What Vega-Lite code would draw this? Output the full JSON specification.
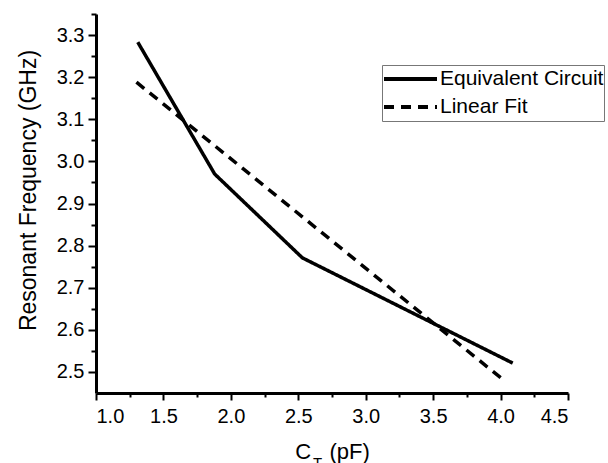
{
  "$schema": "https://vega.github.io/schema/vega-lite/v6.json",
  "autosize": {"type": "none"},
  "width": 472,
  "height": 379,
  "padding": {"left": 96, "top": 14, "right": 40, "bottom": 70},
  "background": "white",
  "config": {
    "font": "Liberation Sans",
    "view": {"stroke": null},
    "axis": {"grid": false, "domainColor": "black", "domainWidth": 3, "tickColor": "black", "tickWidth": 2, "labelColor": "black", "titleColor": "black", "labelFont": "Liberation Sans", "titleFont": "Liberation Sans", "titleFontWeight": "normal"}
  },
  "data": {
    "values": [
      {"c": 1.31, "f": 3.283, "series": "Equivalent Circuit"},
      {"c": 1.88, "f": 2.97, "series": "Equivalent Circuit"},
      {"c": 2.53, "f": 2.771, "series": "Equivalent Circuit"},
      {"c": 4.09, "f": 2.521, "series": "Equivalent Circuit"},
      {"c": 1.30, "f": 3.188, "series": "Linear Fit"},
      {"c": 4.04, "f": 2.476, "series": "Linear Fit"}
    ]
  },
  "layer": [
    {
      "mark": {"type": "line", "color": "black", "strokeWidth": 3.5, "clip": false},
      "encoding": {
        "x": {
          "field": "c", "type": "quantitative",
          "scale": {"domain": [1.0, 4.5], "nice": false, "zero": false},
          "axis": {
            "orient": "bottom",
            "values": [1.0, 1.5, 2.0, 2.5, 3.0, 3.5, 4.0, 4.5],
            "format": ".1f",
            "labelFontSize": 20, "labelPadding": 6, "tickSize": 7,
            "title": "C\u00a0\u00a0\u00a0(pF)", "titleFontSize": 22, "titlePadding": 15
          }
        },
        "y": {
          "field": "f", "type": "quantitative",
          "scale": {"domain": [2.45, 3.35], "nice": false, "zero": false},
          "axis": {
            "orient": "left",
            "values": [2.5, 2.6, 2.7, 2.8, 2.9, 3.0, 3.1, 3.2, 3.3],
            "format": ".1f",
            "labelFontSize": 20, "labelPadding": 4, "tickSize": 8,
            "title": "Resonant Frequency (GHz)", "titleFontSize": 23, "titlePadding": 16, "titleY": 176
          }
        },
        "strokeDash": {
          "field": "series", "type": "nominal",
          "scale": {"domain": ["Equivalent Circuit", "Linear Fit"], "range": [[1, 0], [10, 7]]},
          "legend": {
            "orient": "none", "legendX": 286, "legendY": 51,
            "title": null,
            "symbolType": "stroke", "symbolSize": 2809, "symbolStrokeWidth": 4, "symbolStrokeColor": "black",
            "clipHeight": 28,
            "labelFontSize": 21, "labelColor": "black", "labelOffset": 1, "labelLimit": 400,
            "strokeColor": "#777777", "fillColor": "white", "padding": 0, "rowPadding": 0
          }
        }
      }
    },
    {
      "mark": {"type": "line", "color": "black", "strokeWidth": 3.5, "clip": false},
      "transform": [{"filter": "datum.series == 'ZZZ'"}],
      "encoding": {
        "x": {
          "field": "c", "type": "quantitative",
          "axis": {
            "orient": "bottom", "domain": false, "labels": false,
            "values": [1.25, 1.75, 2.25, 2.75, 3.25, 3.75, 4.25],
            "tickSize": 4,
            "title": "T", "titleFontSize": 15, "titleX": 221, "titleY": 62
          }
        },
        "y": {
          "field": "f", "type": "quantitative",
          "axis": {
            "orient": "left", "domain": false, "labels": false,
            "values": [2.55, 2.65, 2.75, 2.85, 2.95, 3.05, 3.15, 3.25, 3.35],
            "tickSize": 5, "title": null
          }
        }
      }
    }
  ],
  "resolve": {"axis": {"x": "independent", "y": "independent"}}
}
